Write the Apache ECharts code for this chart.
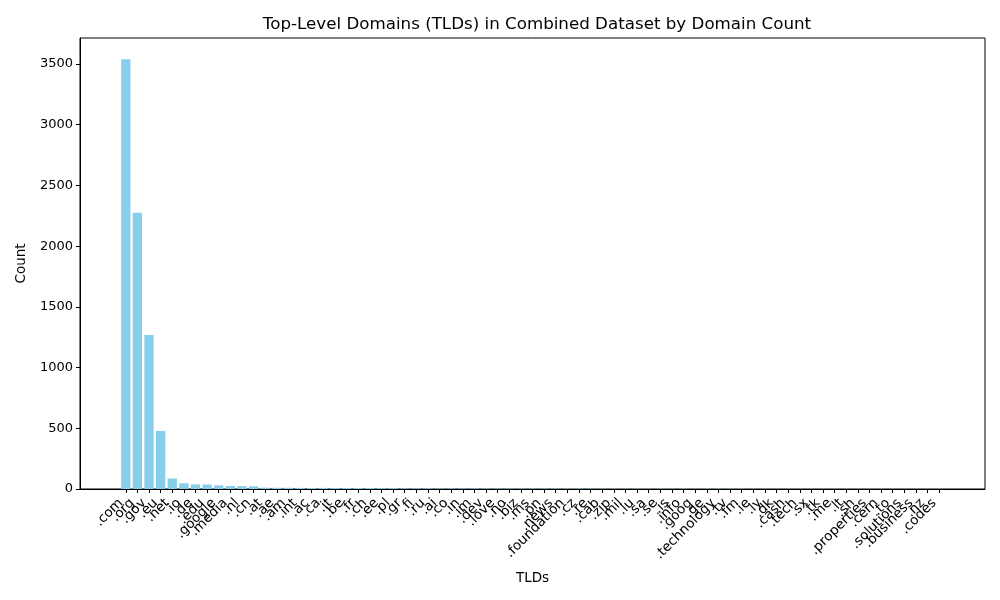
<!DOCTYPE html>
<html>
<head>
<meta charset="utf-8">
<title>TLD counts</title>
<script src="https://cdn.jsdelivr.net/npm/echarts@6/dist/echarts.min.js"></script>
<style>
  html, body { margin: 0; padding: 0; background: #fff; }
  #chart { width: 1000px; height: 600px; }
</style>
</head>
<body>
<div id="chart"></div>
<script>
// TLD names, sorted by count
var tlds = [
    '.com', '.org', '.gov', '.eu', '.net', '.io', '.de', '.edu', '.google', '.media',
    '.nl', '.cn', '.at', '.ae', '.am', '.int', '.ac', '.ca', '.it', '.be',
    '.fr', '.ch', '.ee', '.pl', '.gr', '.fi', '.ru', '.ai', '.co', '.in',
    '.im', '.dev', '.love', '.no', '.biz', '.ms', '.pn', '.news', '.foundation', '.cz',
    '.re', '.cab', '.zip', '.mil', '.lu', '.sa', '.se', '.is', '.info', '.goog',
    '.ge', '.technology', '.tv', '.fm', '.ie', '.ly', '.dk', '.cash', '.tech', '.sx',
    '.tk', '.me', '.lt', '.sh', '.properties', '.cern', '.to', '.solutions', '.business', '.nz',
    '.codes'
];

// domain count per TLD
var counts = [
    3540, 2275, 1268, 478, 87, 47, 38, 37, 30, 25,
    24, 22, 11, 10, 10, 9, 9, 9, 8, 8,
    8, 8, 7, 7, 5, 5, 5, 4, 4, 4,
    4, 4, 3, 3, 3, 3, 3, 3, 3, 3,
    2, 2, 2, 2, 2, 2, 2, 2, 2, 2,
    2, 2, 2, 2, 1, 1, 1, 1, 1, 1,
    1, 1, 1, 1, 1, 1, 1, 1, 1, 1,
    1
];

var yTicks = [0, 500, 1000, 1500, 2000, 2500, 3000, 3500];

var FONT = 'DejaVu Sans';
var BAR_COLOR = '#87CEEB';   // skyblue

// 把类目序号当作数值坐标，留出和原图一样的左右边距
var tickIdx = tlds.map(function (t, i) { return i; });
var barData = counts.map(function (v, i) { return [i, v]; });
var margin = (tlds.length - 1 + 0.8) * 0.05 + 0.4;
var xMin = -margin;
var xMax = tlds.length - 1 + margin;
// 两端加空标签，避免 ECharts 把第二个/倒数第二个标签当重叠隐藏
var labelVals = [xMin].concat(tickIdx).concat([xMax]);

var chart = echarts.init(document.getElementById('chart'), null, { renderer: 'canvas' });

var option = {
    animation: false,
    backgroundColor: '#ffffff',
    title: {
        text: 'Top-Level Domains (TLDs) in Combined Dataset by Domain Count',
        left: 532,
        textAlign: 'center',
        top: 11,
        textStyle: { fontFamily: FONT, fontSize: 16.7, fontWeight: 'normal', color: '#000' }
    },
    grid: {
        left: 80, right: 15, top: 38, bottom: 111,
        show: true, borderColor: '#000', borderWidth: 1, backgroundColor: 'transparent'
    },
    xAxis: {
        type: 'value',
        min: xMin,
        max: xMax,
        name: 'TLDs',
        nameLocation: 'middle',
        nameGap: 82,
        nameTextStyle: { fontFamily: FONT, fontSize: 13.5, color: '#000' },
        splitLine: { show: false },
        axisLine: { show: true, onZero: false, lineStyle: { color: '#000', width: 1 } },
        axisTick: {
            show: true, length: 4, lineStyle: { color: '#000' },
            customValues: tickIdx
        },
        axisLabel: {
            customValues: labelVals,
            showMinLabel: false,
            showMaxLabel: false,
            hideOverlap: false,
            rotate: 45,
            margin: 7,
            padding: [0, 7, 0, 0],
            fontFamily: FONT, fontSize: 13.5, color: '#000',
            formatter: function (v) {
                return Math.abs(v - Math.round(v)) < 1e-6 ? (tlds[Math.round(v)] || '') : '';
            }
        }
    },
    yAxis: {
        type: 'value',
        min: 0,
        max: 3714,
        interval: 500,
        name: 'Count',
        nameLocation: 'middle',
        nameGap: 52,
        nameTextStyle: { fontFamily: FONT, fontSize: 13.5, color: '#000' },
        splitLine: { show: false },
        axisLine: { show: true, onZero: false, lineStyle: { color: '#000', width: 1 } },
        axisTick: { show: true, length: 4, lineStyle: { color: '#000' }, customValues: yTicks },
        axisLabel: {
            customValues: yTicks,
            showMinLabel: true,
            margin: 7,
            fontFamily: FONT, fontSize: 13, color: '#000',
            formatter: function (v) { return String(v); }
        }
    },
    series: [{
        type: 'bar',
        data: barData,
        barWidth: 9.3,
        itemStyle: { color: BAR_COLOR },
        silent: true
    }]
};

chart.setOption(option);
</script>
</body>
</html>
